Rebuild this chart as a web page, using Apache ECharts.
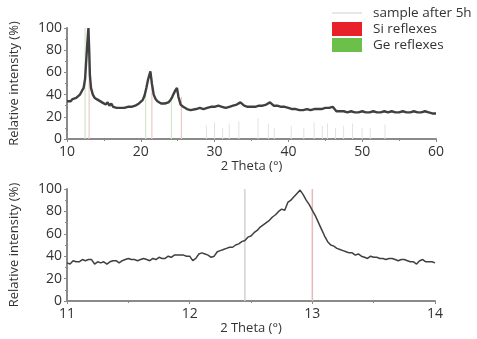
<!DOCTYPE html>
<html><head><meta charset="utf-8">
<script src="https://cdn.jsdelivr.net/npm/echarts@6/dist/echarts.min.js"></script>
<style>html,body{margin:0;padding:0;background:#fff}#c{width:477px;height:339px}</style>
</head><body><div id="c"></div>
<script>
// ---- Top panel: overview scan 10-60 deg ----
const thetaTop = [10,10.25,10.5,10.75,11,11.25,11.5,11.75,12,12.25,12.45,12.6,12.75,12.9,13,13.1,13.25,13.5,13.75,14,14.25,14.5,14.75,15,15.25,15.5,15.75,16,16.25,16.5,16.75,17,17.25,17.5,17.75,18,18.25,18.5,18.75,19,19.25,19.5,19.75,20,20.25,20.5,20.75,21,21.3,21.5,21.75,22,22.25,22.5,22.75,23,23.25,23.5,23.75,24,24.2,24.4,24.7,24.9,25.1,25.4,25.75,26,26.25,26.5,26.75,27,27.5,28,28.5,29,29.5,30,30.5,31,31.5,32,32.5,33,33.5,34,34.5,35,35.5,36,36.5,37,37.5,38,38.5,39,39.5,40,40.5,41,41.5,42,42.5,43,43.5,44,44.5,45,45.5,46,46.5,47,47.5,48,48.5,49,49.5,50,50.5,51,51.5,52,52.5,53,53.5,54,54.5,55,55.5,56,56.5,57,57.5,58,58.5,59,59.5,60];
const intensityTop = [34,35,34,36,35,37,38,40,43,46,54,70,86,100,82,58,46,40,37,36,35,34,33,33,31,33,30,32,29,30,28,29,28,27,28,28,29,28,29,29,30,30,32,33,35,39,46,54,61,50,40,36,34,33,32,31,32,31,33,35,37,40,44,46,38,31,29,28,27,27,26,27,27,28,27,28,29,29,30,29,28,29,30,31,33,30,29,29,29,30,30,31,33,30,30,29,29,28,27,27,26,26,27,26,27,27,27,28,28,29,25,25,25,24,25,24,24,25,24,24,25,24,24,25,24,25,24,24,25,24,24,25,24,24,25,24,23,23,23];
const siTopPos = [13.0,21.5,25.5];
const siTopVal = [100,55,38];
const geTopPos = [12.45,20.65,24.15];
const geTopVal = [100,45,38];
const otherPos = [28.9,30.0,31.1,32.0,33.3,35.9,37.3,38.1,40.4,42.1,43.5,44.6,45.3,46.4,47.5,48.7,50.0,51.1,53.1];
const otherVal = [12,15,10,14,16,19,14,10,12,10,15,12,14,10,12,14,10,10,13];

// ---- Bottom panel: detail scan 11-14 deg ----
const thetaBot = [11,11.025,11.05,11.075,11.1,11.125,11.15,11.175,11.2,11.225,11.25,11.275,11.3,11.325,11.35,11.375,11.4,11.425,11.45,11.475,11.5,11.525,11.55,11.575,11.6,11.625,11.65,11.675,11.7,11.725,11.75,11.775,11.8,11.825,11.85,11.875,11.9,11.925,11.95,11.975,12,12.025,12.05,12.075,12.1,12.125,12.15,12.175,12.2,12.225,12.25,12.275,12.3,12.325,12.35,12.375,12.4,12.425,12.45,12.475,12.5,12.525,12.55,12.575,12.6,12.625,12.65,12.675,12.7,12.725,12.75,12.775,12.8,12.825,12.85,12.875,12.9,12.925,12.95,12.975,13,13.025,13.05,13.075,13.1,13.125,13.15,13.175,13.2,13.225,13.25,13.275,13.3,13.325,13.35,13.375,13.4,13.425,13.45,13.475,13.5,13.525,13.55,13.575,13.6,13.625,13.65,13.675,13.7,13.725,13.75,13.775,13.8,13.825,13.85,13.875,13.9,13.925,13.95,13.975,14];
const intensityBot = [34,33,36,35,35,37,36,37,37,33,35,34,35,33,35,36,36,34,36,37,38,37,37,36,37,38,37,36,38,37,39,38,38,40,39,41,41,41,41,40,40,36,38,42,43,42,41,39,40,44,45,46,47,48,48,50,51,53,54,57,58,61,63,66,68,70,72,75,77,80,82,81,88,90,93,96,99,95,90,86,81,76,70,64,58,53,50,49,47,46,45,44,43,43,41,42,40,39,38,40,39,39,38,38,37,38,38,37,36,37,37,36,35,35,33,36,37,35,35,35,34];
const siBotPos = [13.0];
const siBotVal = [100];
const geBotPos = [12.45];
const geBotVal = [100];

const yTicks = [0,20,40,60,80,100];

const pairs = (xs, ys) => xs.map((x, i) => [x, ys[i]]);
const FONT = 'Open Sans';
const axisCol = '#8a8a8a';
const txt = '#333';

function xAxis(gi, min, max, interval) {
  return {
    type: 'value', gridIndex: gi, min, max, interval,
    name: '2 Theta (°)', nameLocation: 'middle', nameGap: 21,
    nameTextStyle: {fontFamily: FONT, fontSize: 13, color: txt},
    axisLine: {lineStyle: {color: axisCol, width: 2}},
    axisTick: {length: 3, lineStyle: {color: axisCol, width: 1}},
    minorTick: {show: true, splitNumber: 2, length: 2, lineStyle: {color: axisCol}},
    axisLabel: {fontFamily: FONT, fontSize: 14, color: txt, margin: 6},
    splitLine: {show: false}
  };
}
function yAxis(gi) {
  return {
    type: 'value', gridIndex: gi, min: yTicks[0], max: yTicks[yTicks.length-1], interval: 20,
    name: 'Relative intensity (%)', nameLocation: 'middle', nameGap: 46, nameRotate: 90,
    nameTextStyle: {fontFamily: FONT, fontSize: 13, color: txt},
    axisLine: {show: true, lineStyle: {color: axisCol, width: 2}},
    axisTick: {show: true, length: 3, lineStyle: {color: axisCol}},
    minorTick: {show: true, splitNumber: 2, length: 2, lineStyle: {color: axisCol}},
    axisLabel: {fontFamily: FONT, fontSize: 14, color: txt, margin: 5},
    splitLine: {show: false}
  };
}
function bars(name, gi, xs, ys, color, w) {
  return {
    name, type: 'bar', xAxisIndex: gi, yAxisIndex: gi, barWidth: w, barGap: '-100%',
    data: pairs(xs, ys), itemStyle: {color}, z: 1, silent: true
  };
}
function curve(gi, xs, ys, w) {
  return {
    name: 'sample after 5h', type: 'line', xAxisIndex: gi, yAxisIndex: gi,
    data: pairs(xs, ys), symbol: 'none', showSymbol: false,
    lineStyle: {color: '#404040', width: w}, z: 5
  };
}

const chart = echarts.init(document.getElementById('c'), null, {renderer: 'canvas'});
chart.setOption({
  animation: false,
  backgroundColor: '#fff',
  grid: [
    {left: 64, top: 28, width: 372, height: 111},
    {left: 64, top: 189, width: 371, height: 112}
  ],
  legend: {
    orient: 'vertical', left: 327, top: 1, itemGap: 2, itemWidth: 30, itemHeight: 14,
    textStyle: {fontFamily: FONT, fontSize: 13.5, color: txt, padding: [0, 0, 0, 6]},
    data: [
      {name: 'sample after 5h', icon: 'path://M0,6.5 L30,6.5 L30,7.5 L0,7.5 Z', itemStyle: {color: '#cfcfcf'}},
      {name: 'Si reflexes', icon: 'rect', itemStyle: {color: '#e8202a'}},
      {name: 'Ge reflexes', icon: 'rect', itemStyle: {color: '#6cc04a'}}
    ]
  },
  xAxis: [xAxis(0, 10, 60, 10), xAxis(1, 11, 14, 1)],
  yAxis: [yAxis(0), yAxis(1)],
  series: [
    bars('other', 0, otherPos, otherVal, '#e2e2e2', 1),
    bars('Ge reflexes', 0, geTopPos, geTopVal, '#cfe8c8', 1.2),
    bars('Si reflexes', 0, siTopPos, siTopVal, '#efc8c8', 1.2),
    curve(0, thetaTop, intensityTop, 2.4),
    bars('Ge reflexes', 1, geBotPos, geBotVal, '#d2d2d2', 1.5),
    bars('Si reflexes', 1, siBotPos, siBotVal, '#e8b8be', 1.5),
    curve(1, thetaBot, intensityBot, 1.5)
  ]
});
</script></body></html>
